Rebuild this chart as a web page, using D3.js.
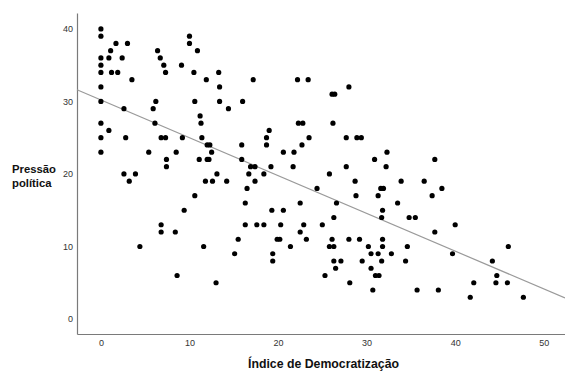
<!DOCTYPE html>
<html>
<head>
<meta charset="utf-8">
<script src="https://cdn.jsdelivr.net/npm/d3@7"></script>
<style>
  body { margin: 0; background: #fff; }
  svg text { font-family: 'Liberation Sans', Arial, sans-serif; }
</style>
</head>
<body>
<svg id="chart"></svg>
<script>
// Índice de Democratização (x) vs Pressão política (y)
const democ = [
  0, 0, 0, 0, 0, 0, 0, 0, 0, 0, 0.9, 1.1, 0.9, 1.2, 1.7, 1.9, 2.4, 2.6, 2.8, 3.0,
  3.5, 5.9, 6.2, 6.1, 6.4, 6.7, 7.1, 7.3, 6.8, 7.3, 9.1, 9.2, 10.0, 10.0, 10.5, 10.6, 10.9, 11.2, 11.3, 11.4,
  13.3, 11.9, 13.4, 17.2, 13.4, 16.0, 14.4, 19.0, 18.7, 22.2, 23.4, 26.1, 26.4, 28.0, 22.3, 22.8, 26.2, 23.5, 27.7, 28.9,
  29.4, 5.4, 12.0, 12.3, 8.5, 7.4, 7.4, 11.1, 12.0, 12.2, 12.5, 2.6, 3.2, 3.9, 13.1, 11.8, 12.6, 14.2, 10.6, 9.4,
  6.8, 6.8, 8.4, 4.4, 11.6, 15.9, 18.7, 22.7, 20.6, 21.8, 32.3, 30.9, 15.9, 16.9, 17.4, 19.2, 21.7, 27.7, 32.2, 16.7,
  18.4, 25.8, 17.4, 28.7, 16.5, 24.4, 31.6, 31.9, 28.8, 31.3, 16.3, 22.5, 26.6, 19.3, 20.6, 31.8, 26.3, 31.7, 16.3, 17.6,
  18.4, 20.3, 22.9, 25.0, 22.5, 15.5, 19.9, 20.2, 23.2, 26.1, 28.0, 29.2, 31.8, 21.4, 25.8, 26.3, 30.2, 31.8, 37.7, 33.9,
  36.5, 38.5, 37.4, 33.5, 34.8, 35.5, 40.0, 37.7, 34.6, 46.0, 15.1, 19.4, 19.4, 8.6, 13.0, 30.5, 31.3, 32.8, 39.7, 26.3,
  27.1, 29.5, 31.7, 34.4, 44.2, 26.5, 30.5, 25.3, 31.0, 31.4, 44.7, 28.1, 42.1, 44.6, 45.9, 30.7, 35.7, 38.1, 41.7, 47.7
];
const pressao = [
  40, 39, 36, 35, 34, 32, 30, 27, 25, 23, 26, 37, 36, 34, 38, 34, 36, 29, 25, 38,
  33, 29, 30, 27, 37, 36, 35, 34, 25, 25, 35, 25, 39, 38, 34, 30, 37, 28, 27, 25,
  34, 33, 32, 33, 30, 30, 29, 26, 25, 33, 33, 31, 31, 32, 27, 27, 27, 25, 25, 25,
  25, 23, 24, 24, 23, 22, 21, 22, 22, 22, 23, 20, 19, 20, 20, 19, 19, 19, 17, 15,
  13, 12, 12, 10, 10, 24, 24, 24, 23, 23, 23, 22, 22, 21, 21, 21, 21, 21, 21, 20,
  20, 20, 19, 19, 18, 18, 18, 18, 17, 17, 16, 16, 16, 15, 15, 15, 14, 14, 13, 13,
  13, 13, 13, 13, 12, 11, 11, 11, 11, 11, 11, 11, 11, 10, 10, 10, 10, 10, 22, 19,
  19, 18, 17, 16, 14, 14, 13, 12, 10, 10, 9, 9, 8, 6, 5, 9, 9, 9, 9, 8,
  8, 8, 8, 8, 8, 7, 7, 6, 6, 6, 6, 5, 5, 5, 5, 4, 4, 4, 3, 3
];
const xTicks = [0, 10, 20, 30, 40, 50];
const yTicks = [0, 10, 20, 30, 40];
// linear fit line
const fitIntercept = 30.2;
const fitSlope = -0.521;

const W = 565, H = 371;
const svg = d3.select('#chart').attr('width', W).attr('height', H);

const x = d3.scaleLinear().domain([-2.7, 52.4]).range([77, 565]);
const y = d3.scaleLinear().domain([-2.07, 42.2]).range([334, 13]);

const points = democ.map(function(d, i) { return [d, pressao[i]]; });

// axes
const xAxis = svg.append('g')
  .attr('transform', 'translate(0,' + y.range()[0] + ')')
  .call(d3.axisBottom(x).tickValues(xTicks).tickSize(0).tickPadding(6).tickSizeOuter(0));
const yAxis = svg.append('g')
  .attr('transform', 'translate(' + x.range()[0] + ',0)')
  .call(d3.axisLeft(y).tickValues(yTicks).tickSize(0).tickPadding(4).tickSizeOuter(0));

[xAxis, yAxis].forEach(function(g) {
  g.select('.domain').attr('stroke', '#7a7a7a').attr('stroke-width', 1.2);
  g.selectAll('text').attr('fill', '#333').style('font-size', '9px');
});

// fit line
const dom = x.domain();
svg.append('line')
  .attr('x1', x(dom[0])).attr('y1', y(fitIntercept + fitSlope * dom[0]))
  .attr('x2', x(dom[1])).attr('y2', y(fitIntercept + fitSlope * dom[1]))
  .attr('stroke', '#9a9a9a')
  .attr('stroke-width', 1.2);

// points
svg.append('g')
  .selectAll('circle')
  .data(points)
  .enter()
  .append('circle')
  .attr('cx', function(d) { return x(d[0]); })
  .attr('cy', function(d) { return y(d[1]); })
  .attr('r', 2.6)
  .attr('fill', '#000');

// titles
svg.append('text')
  .attr('x', 323.5).attr('y', 368)
  .attr('text-anchor', 'middle')
  .style('font-size', '12.3px').style('font-weight', 'bold')
  .attr('fill', '#111')
  .text('Índice de Democratização');

const yt = svg.append('text')
  .attr('x', 12).attr('y', 173)
  .style('font-size', '11.3px').style('font-weight', 'bold')
  .attr('fill', '#111');
yt.append('tspan').attr('x', 12).text('Pressão');
yt.append('tspan').attr('x', 12).attr('dy', 13.5).text('política');
</script>
</body>
</html>
